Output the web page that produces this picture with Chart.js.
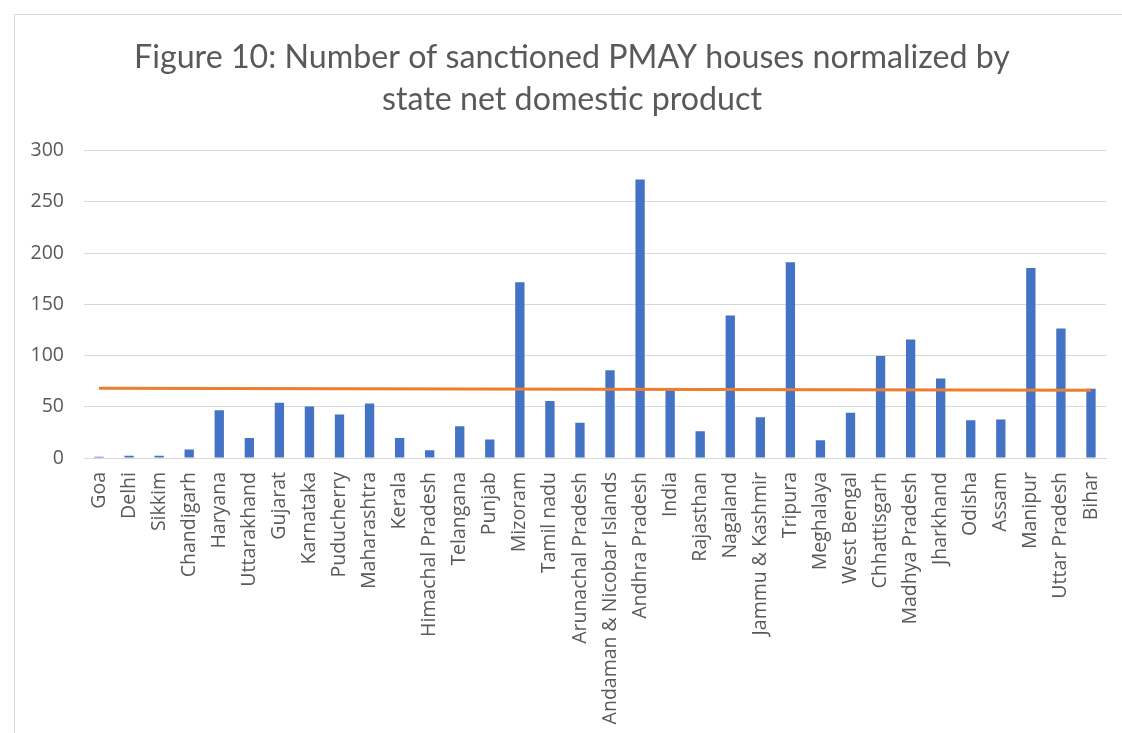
<!DOCTYPE html>
<html>
<head>
<meta charset="utf-8">
<title>PMAY houses by state</title>
<script src="https://cdn.jsdelivr.net/npm/chart.js@4/dist/chart.umd.min.js"></script>
<style>
  html, body { margin: 0; padding: 0; background: #fff; overflow: hidden; }
  .chart-box {
    position: absolute;
    left: 14px;
    top: 14px;
    width: 1114px;
    height: 730px;
    border-left: 1px solid #d9d9d9;
    border-top: 1px solid #d9d9d9;
  }
</style>
</head>
<body>
<div class="chart-box">
  <canvas id="pmayChart" width="1114" height="719"></canvas>
</div>
<script>
// states, ordered as in the report
const states = [
  "Goa", "Delhi", "Sikkim", "Chandigarh", "Haryana", "Uttarakhand", "Gujarat",
  "Karnataka", "Puducherry", "Maharashtra", "Kerala", "Himachal Pradesh",
  "Telangana", "Punjab", "Mizoram", "Tamil nadu", "Arunachal Pradesh",
  "Andaman & Nicobar Islands", "Andhra Pradesh", "India", "Rajasthan",
  "Nagaland", "Jammu & Kashmir", "Tripura", "Meghalaya", "West Bengal",
  "Chhattisgarh", "Madhya Pradesh", "Jharkhand", "Odisha", "Assam",
  "Manipur", "Uttar Pradesh", "Bihar"
];

// sanctioned houses per unit of net state domestic product
const housesPerNsdp = [
  1.3, 2.3, 2.3, 8.2, 46.7, 19.6, 53.9,
  50.3, 42.5, 53.3, 19.6, 7.5,
  31.1, 18.0, 171.6, 55.6, 34.3,
  85.6, 271.9, 66.0, 26.1,
  139.2, 39.9, 191.0, 17.3, 44.1,
  99.7, 115.7, 77.5, 36.9, 37.6,
  185.6, 126.5, 67.6
];

// linear trend: value at the first and at the last state
const trendStart = 68.2;
const trendEnd = 66.1;

const yTicks = { min: 0, max: 300, step: 50 };

const grey = "#595959";
const gridGrey = "#d9d9d9";

// only the two ends are set, spanGaps joins them
const trendLine = states.map((s, i) =>
  i === 0 ? trendStart : (i === states.length - 1 ? trendEnd : null));

new Chart(document.getElementById("pmayChart"), {
  type: "bar",
  data: {
    labels: states,
    datasets: [
      {
        label: "Houses",
        data: housesPerNsdp,
        backgroundColor: "#4472c4",
        barPercentage: 0.31,
        categoryPercentage: 1,
        order: 2
      },
      {
        type: "line",
        label: "Trend",
        data: trendLine,
        spanGaps: true,
        borderColor: "#ed7d31",
        borderWidth: 3,
        pointRadius: 0,
        order: 1
      }
    ]
  },
  options: {
    responsive: false,
    animation: false,
    layout: { padding: 0 },
    plugins: {
      legend: { display: false },
      tooltip: { enabled: false },
      title: {
        display: true,
        text: ["Figure 10: Number of sanctioned PMAY houses normalized by", "state net domestic product"],
        color: grey,
        font: { family: "Lato", size: 32.2, weight: "normal", lineHeight: 1.3 },
        padding: { top: 22, bottom: 30 }
      }
    },
    scales: {
      x: {
        grid: { display: false, drawTicks: false },
        border: { color: gridGrey },
        ticks: {
          color: grey,
          font: { family: "Open Sans", size: 19.5 },
          minRotation: 90,
          maxRotation: 90,
          autoSkip: false,
          padding: 14
        },
        afterFit: (scale) => { scale.height = 276; }
      },
      y: {
        min: yTicks.min,
        max: yTicks.max,
        grid: { color: gridGrey, drawTicks: false },
        border: { display: false },
        ticks: {
          stepSize: yTicks.step,
          color: grey,
          font: { family: "Open Sans", size: 19.5 },
          padding: 20
        },
        afterFit: (scale) => { scale.width = 69; }
      },
      // empty right-hand gutter so the plot stops short of the frame
      yGutter: {
        position: "right",
        grid: { display: false, drawTicks: false },
        border: { display: false },
        ticks: { display: false },
        afterFit: (scale) => { scale.width = 23; }
      }
    }
  }
});
</script>
</body>
</html>
